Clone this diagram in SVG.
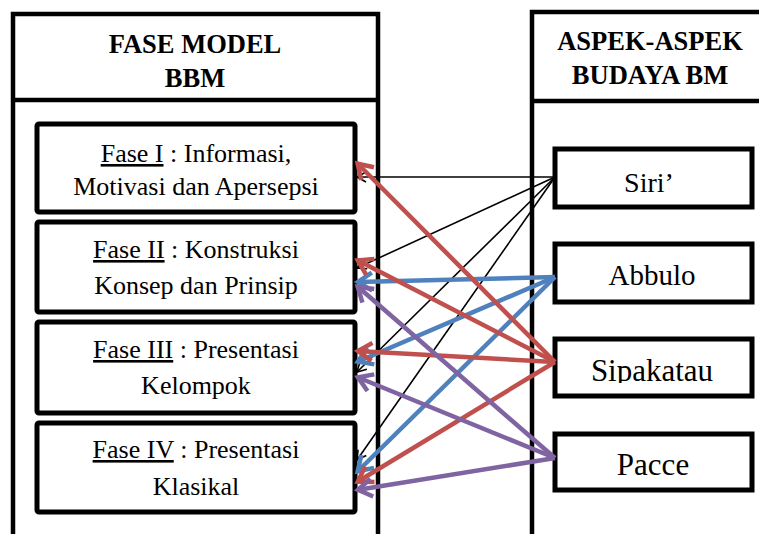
<svg xmlns="http://www.w3.org/2000/svg" width="759" height="534" viewBox="0 0 759 534">
<style>
.frame{fill:none;stroke:#000;stroke-width:4.5}
.box{fill:#fff;stroke:#000;stroke-width:5}
text{font-family:'Liberation Serif','DejaVu Serif',serif;fill:#000;text-anchor:middle}
.hdr{font-weight:bold;font-size:26.5px}
.txt{font-size:26px}
.asp{font-size:29px}
.u{text-decoration:underline}
.k{stroke:#000;stroke-width:1.6;fill:none;marker-end:url(#mk)}
.r{stroke:#C0504D;stroke-width:4.5;fill:none;marker-end:url(#mr)}
.b{stroke:#4F81BD;stroke-width:4.5;fill:none;marker-end:url(#mb)}
.p{stroke:#8064A2;stroke-width:4.5;fill:none;marker-end:url(#mp)}
</style>
<defs>
<marker id="mk" markerUnits="userSpaceOnUse" markerWidth="20" markerHeight="20" viewBox="-10 -10 20 20" refX="0" refY="0" orient="auto" overflow="visible"><path d="M-9,-5 L0,0 L-9,5" fill="none" stroke="#000" stroke-width="1.6"/></marker>
<marker id="mr" markerUnits="userSpaceOnUse" markerWidth="30" markerHeight="30" viewBox="-15 -15 30 30" refX="0" refY="0" orient="auto" overflow="visible"><path d="M-15,-9 L-1,0 L-15,9" fill="none" stroke="#C0504D" stroke-width="4.5"/></marker>
<marker id="mb" markerUnits="userSpaceOnUse" markerWidth="30" markerHeight="30" viewBox="-15 -15 30 30" refX="0" refY="0" orient="auto" overflow="visible"><path d="M-15,-9 L-1,0 L-15,9" fill="none" stroke="#4F81BD" stroke-width="4.5"/></marker>
<marker id="mp" markerUnits="userSpaceOnUse" markerWidth="30" markerHeight="30" viewBox="-15 -15 30 30" refX="0" refY="0" orient="auto" overflow="visible"><path d="M-15,-9 L-1,0 L-15,9" fill="none" stroke="#8064A2" stroke-width="4.5"/></marker>
<clipPath id="clipSip"><rect x="553" y="338" width="199" height="45"/></clipPath>
</defs>
<rect width="759" height="534" fill="#fff"/>

<g id="fase-model">
<path class="frame" d="M13,536 V14 H378 V536 M13,100 H378"/>
<text class="hdr" x="195" y="53">FASE MODEL</text>
<text class="hdr" x="195" y="87">BBM</text>
</g>

<g id="aspek-budaya">
<path class="frame" d="M532,536 V12 H762 M532,101 H762"/>
<text class="hdr" x="650" y="50">ASPEK-ASPEK</text>
<text class="hdr" x="650" y="84">BUDAYA BM</text>
</g>

<g id="fase1">
<rect class="box" x="37" y="124" width="318" height="88" rx="2"/>
<text class="txt" x="196" y="162"><tspan class="u">Fase I</tspan> : Informasi,</text>
<text class="txt" x="196" y="195">Motivasi dan Apersepsi</text>
</g>
<g id="fase2">
<rect class="box" x="37" y="222" width="318" height="90" rx="2"/>
<text class="txt" x="196" y="258"><tspan class="u">Fase II</tspan> : Konstruksi</text>
<text class="txt" x="196" y="294">Konsep dan Prinsip</text>
</g>
<g id="fase3">
<rect class="box" x="37" y="322" width="318" height="91" rx="2"/>
<text class="txt" x="196" y="358"><tspan class="u">Fase III</tspan> : Presentasi</text>
<text class="txt" x="196" y="394">Kelompok</text>
</g>
<g id="fase4">
<rect class="box" x="37" y="423" width="318" height="89" rx="2"/>
<text class="txt" x="196" y="458"><tspan class="u">Fase IV</tspan> : Presentasi</text>
<text class="txt" x="196" y="495">Klasikal</text>
</g>

<g id="siri">
<rect class="box" x="555" y="149" width="197" height="58"/>
<text class="asp" x="649" y="192" style="font-size:28px">Siri’</text>
</g>
<g id="abbulo">
<rect class="box" x="555" y="244" width="197" height="58"/>
<text class="asp" x="652" y="285">Abbulo</text>
</g>
<g id="sipakatau">
<rect class="box" x="555" y="339" width="197" height="57"/>
<text class="asp" x="652" y="381" style="font-size:31px" clip-path="url(#clipSip)">Sipakatau</text>
</g>
<g id="pacce">
<rect class="box" x="555" y="434" width="197" height="56"/>
<text class="asp" x="653" y="475" style="font-size:31px">Pacce</text>
</g>

<g id="connectors">
<line class="k" x1="555" y1="177" x2="357" y2="177"/>
<line class="k" x1="555" y1="177" x2="357" y2="268"/>
<line class="k" x1="555" y1="177" x2="357" y2="372"/>
<line class="k" x1="555" y1="177" x2="357" y2="460"/>
<line class="b" x1="555" y1="277" x2="357" y2="282"/>
<line class="b" x1="555" y1="277" x2="357" y2="362"/>
<line class="b" x1="555" y1="277" x2="357" y2="472"/>
<line class="r" x1="555" y1="362" x2="357" y2="163"/>
<line class="r" x1="555" y1="362" x2="357" y2="260"/>
<line class="r" x1="555" y1="362" x2="357" y2="351"/>
<line class="r" x1="555" y1="362" x2="357" y2="482"/>
<line class="p" x1="555" y1="458" x2="357" y2="286"/>
<line class="p" x1="555" y1="458" x2="357" y2="377"/>
<line class="p" x1="555" y1="458" x2="357" y2="490"/>
</g>
</svg>
